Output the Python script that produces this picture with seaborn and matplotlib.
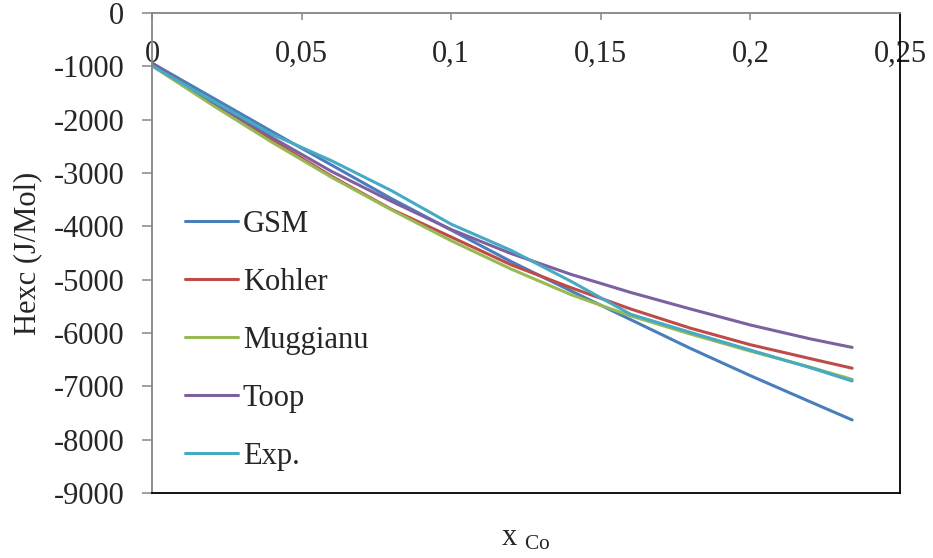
import matplotlib
matplotlib.use("Agg")
import matplotlib.pyplot as plt
import seaborn as sns
import pandas as pd

# ---- data ----
x_vals = [0, 0.02, 0.04, 0.06, 0.08, 0.10, 0.12, 0.14, 0.16, 0.18, 0.20, 0.22, 0.234]
gsm      = [-940, -1580, -2220, -2850, -3480, -4070, -4660, -5210, -5750, -6290, -6800, -7290, -7630]
kohler   = [-970, -1680, -2380, -3060, -3680, -4200, -4720, -5150, -5550, -5910, -6220, -6480, -6660]
muggianu = [-990, -1720, -2420, -3080, -3690, -4270, -4800, -5280, -5680, -6020, -6340, -6640, -6870]
toop     = [-940, -1660, -2330, -2970, -3530, -4060, -4510, -4900, -5240, -5550, -5850, -6110, -6270]
exp      = [-990, -1640, -2270, -2770, -3330, -3960, -4450, -5030, -5650, -5990, -6320, -6650, -6900]

series_names = ["GSM", "Kohler", "Muggianu", "Toop", "Exp."]
series_vals = [gsm, kohler, muggianu, toop, exp]
colors = ["#4A7EBB", "#BE4B48", "#98B954", "#7D60A0", "#46AAC5"]

x_ticks = [0, 0.05, 0.1, 0.15, 0.2, 0.25]
x_ticklabels = ["0", "0,05", "0,1", "0,15", "0,2", "0,25"]
y_ticks = [0, -1000, -2000, -3000, -4000, -5000, -6000, -7000, -8000, -9000]
y_ticklabels = ["0", "-1000", "-2000", "-3000", "-4000", "-5000", "-6000", "-7000", "-8000", "-9000"]

rows = []
for name, vals in zip(series_names, series_vals):
    for xv, yv in zip(x_vals, vals):
        rows.append({"x": xv, "H": yv, "model": name})
df = pd.DataFrame(rows)

sns.set_style("white")
plt.rcParams["font.family"] = ["Liberation Serif", "DejaVu Serif"]
plt.rcParams["mathtext.fontset"] = "custom"
plt.rcParams["mathtext.rm"] = "Liberation Serif"
plt.rcParams["mathtext.it"] = "Liberation Serif:italic"

W, H = 933, 558
fig = plt.figure(figsize=(W / 100, H / 100), dpi=100)
ax = fig.add_axes([152 / W, 1 - 493 / H, (900 - 152) / W, (493 - 13) / H])

sns.lineplot(data=df, x="x", y="H", hue="model", hue_order=series_names,
             palette=dict(zip(series_names, colors)), linewidth=2.2,
             sort=False, ax=ax)

ax.set_xlim(0, 0.25)
ax.set_ylim(-9000, 0)

fs = 22
gray = "#868686"

# x axis: ticks on the top (the axis crosses at y=0), labels below it
ax.set_xticks(x_ticks)
ax.set_xticklabels(x_ticklabels, fontsize=fs)
ax.tick_params(axis="x", bottom=False, top=True, labelbottom=False, labeltop=True,
               direction="in", length=5, width=1.1, color=gray, pad=-40)
ax.xaxis.set_label_position("bottom")

ax.set_yticks(y_ticks)
ax.set_yticklabels(y_ticklabels, fontsize=fs)
ax.tick_params(axis="y", left=True, direction="out", length=7, width=1.1,
               color=gray, pad=13)

for s in ["top", "left"]:
    ax.spines[s].set_color(gray)
    ax.spines[s].set_linewidth(1.3)
for s in ["bottom", "right"]:
    ax.spines[s].set_color("black")
    ax.spines[s].set_linewidth(1.3)
ax.set_zorder(1)

ax.set_xlabel(r"x $_{\mathrm{Co}}$", fontsize=fs, labelpad=22)
ax.set_ylabel("Hexc (J/Mol)", fontsize=fs, labelpad=8)

leg = ax.legend(loc="upper left", bbox_to_anchor=(0.044, 0.59), frameon=False,
                fontsize=fs, handlelength=1.73, handletextpad=0.16,
                labelspacing=0.95, borderpad=0, borderaxespad=0)
for line in leg.get_lines():
    line.set_linewidth(2.2)

fig.savefig("out.png", dpi=100)
